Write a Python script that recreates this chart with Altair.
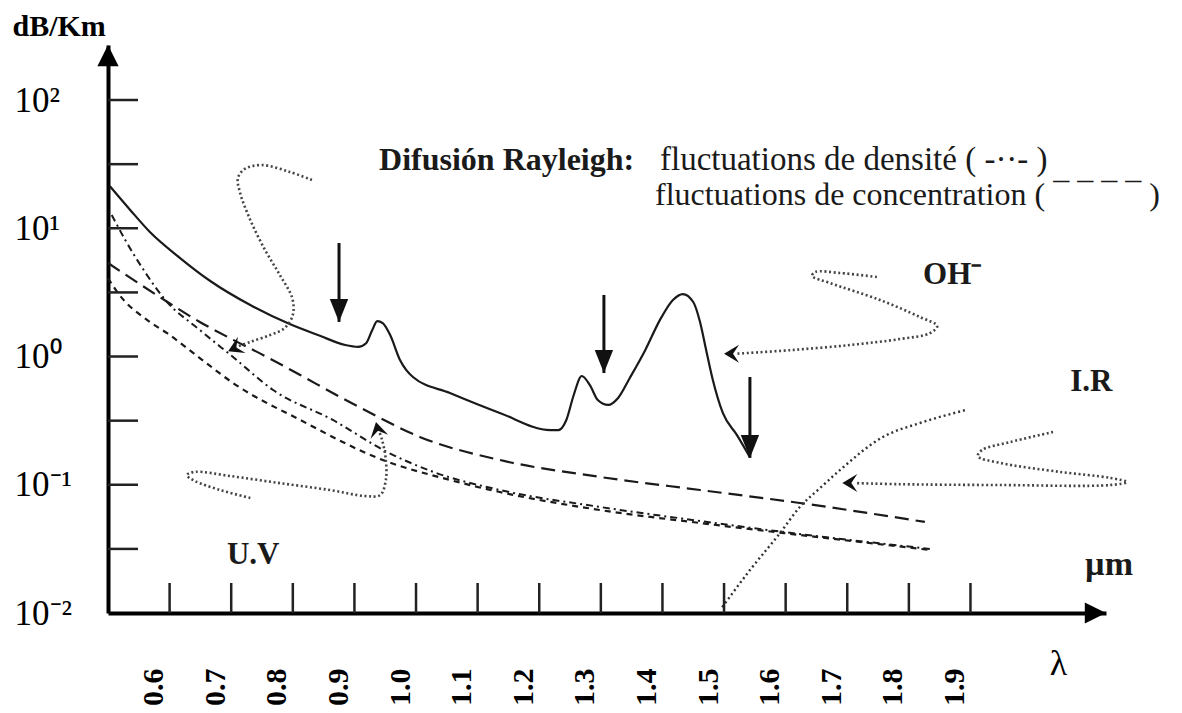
import altair as alt
import pandas as pd

# ---------------- axis values ----------------
x_tick_values = [0.6, 0.7, 0.8, 0.9, 1.0, 1.1, 1.2, 1.3, 1.4, 1.5, 1.6, 1.7, 1.8, 1.9]
y_label_values = [0.01, 0.1, 1, 10, 100]
y_tick_values = [0.0316, 0.1, 0.316, 1, 3.16, 10, 31.6, 100]

# ---------------- curves (wavelength µm, attenuation dB/km) ----------------
total_x = [0.503, 0.536, 0.568, 0.617, 0.666, 0.731, 0.795, 0.844, 0.885, 0.906,
           0.919, 0.929, 0.937, 0.946, 0.958, 0.974, 0.995, 1.055, 1.136, 1.218,
           1.231, 1.244, 1.256, 1.269, 1.282, 1.295, 1.312, 1.328, 1.347, 1.372,
           1.396, 1.417, 1.433, 1.450, 1.461, 1.471, 1.481, 1.498, 1.521, 1.542]
total_y = [21.3, 13.9, 9.35, 5.86, 3.88, 2.52, 1.79, 1.45, 1.23, 1.19,
           1.27, 1.61, 1.89, 1.82, 1.47, 0.94, 0.692, 0.519, 0.363, 0.267,
           0.267, 0.320, 0.501, 0.705, 0.600, 0.458, 0.419, 0.475, 0.680, 1.12,
           1.93, 2.76, 3.07, 2.66, 1.86, 1.12, 0.680, 0.363, 0.244, 0.164]

rayleigh_x = [0.5, 0.584, 0.649, 0.703, 0.758, 0.812, 0.877, 0.920, 1.006, 1.136, 1.299, 1.461, 1.623, 1.826]
rayleigh_y = [5.36, 2.91, 1.86, 1.35, 0.991, 0.717, 0.483, 0.376, 0.236, 0.156, 0.115, 0.091, 0.0721, 0.0513]

density_x = [0.506, 0.528, 0.560, 0.593, 0.649, 0.703, 0.768, 0.865, 0.953, 1.028, 1.136, 1.299, 1.461, 1.623, 1.834]
density_y = [12.7, 8.10, 4.56, 2.76, 1.61, 0.991, 0.548, 0.320, 0.180, 0.126, 0.0910, 0.0671, 0.0522, 0.0413, 0.0316]

conc_x = [0.5, 0.515, 0.568, 0.596, 0.649, 0.703, 0.812, 0.946, 1.055, 1.136, 1.299, 1.461, 1.623, 1.834]
conc_y = [4.09, 3.18, 1.86, 1.52, 0.973, 0.621, 0.320, 0.156, 0.109, 0.0878, 0.0635, 0.0503, 0.0406, 0.0310]

ir_x = [1.497, 1.542, 1.591, 1.623, 1.656, 1.688, 1.758, 1.818, 1.893]
ir_y = [0.0111, 0.0216, 0.0421, 0.0671, 0.0944, 0.130, 0.236, 0.303, 0.383]

# ---------------- dotted pointer paths ----------------
uv1_x = [0.831, 0.795, 0.750, 0.722, 0.711, 0.714, 0.731, 0.755, 0.779, 0.799, 0.800, 0.787, 0.763, 0.731, 0.701]
uv1_y = [23.8, 27.5, 31.1, 29.0, 24.7, 19.2, 11.6, 6.76, 4.32, 2.86, 2.11, 1.67, 1.47, 1.30, 1.15]
uv2_x = [0.731, 0.682, 0.641, 0.628, 0.641, 0.698, 0.779, 0.860, 0.917, 0.942, 0.951, 0.951, 0.945, 0.938]
uv2_y = [0.0789, 0.0910, 0.107, 0.119, 0.126, 0.117, 0.103, 0.0910, 0.0817, 0.0832, 0.109, 0.156, 0.223, 0.277]
oh_x = [1.748, 1.688, 1.648, 1.643, 1.672, 1.753, 1.818, 1.846, 1.834, 1.786, 1.705, 1.607, 1.518]
oh_y = [4.17, 4.48, 4.56, 4.25, 3.74, 2.76, 2.03, 1.73, 1.52, 1.37, 1.23, 1.12, 1.05]
irp_x = [2.034, 1.964, 1.919, 1.912, 1.948, 2.045, 2.127, 2.154, 2.127, 1.948, 1.786, 1.713]
irp_y = [0.258, 0.215, 0.187, 0.167, 0.148, 0.126, 0.113, 0.105, 0.0995, 0.0995, 0.101, 0.103]

head_x = [0.695, 0.935, 1.500, 1.692]
head_y = [1.10, 0.308, 1.05, 0.103]
head_angle = [335, 77, 0, 0]

# ---------------- window arrows ----------------
win_x = [0.875, 1.305, 1.542]
win_top = [7.67, 3.02, 0.692]
win_tip = [1.86, 0.743, 0.162]

# ---------------- annotations ----------------
bold_text = ["Difusión Rayleigh:", "OH⁻", "I.R", "U.V", "µm"]
bold_x = [0.940, 1.823, 2.062, 0.693, 2.086]
bold_y = [34.0, 4.32, 0.632, 0.0283, 0.0237]
bold_size = [32, 31, 31, 31, 34]

plain_text = ["fluctuations de densité (  -··-   )", "fluctuations de concentration ( ¯ ¯ ¯ ¯ )"]
plain_x = [1.396, 1.388]
plain_y = [34.0, 18.2]
plain_size = [33, 32]

W, H = 998, 568
FONT = "Liberation Serif"
INK = "#1a1a1a"

xscale = alt.Scale(domain=[0.5, 2.12], nice=False, zero=False)
yscale = alt.Scale(type="log", domain=[0.01, 268.5], nice=False)

x_axis = alt.Axis(
    values=x_tick_values, labelExpr="format(datum.value, '.1f')",
    labelAngle=270, labelAlign="right", labelBaseline="middle",
    labelPadding=55, labelOffset=-16, labelFont=FONT, labelFontSize=30,
    labelFontWeight="bold", labelColor="black", labelFlush=False, labelOverlap=False,
    ticks=False, tickSize=0, grid=False, domainColor="black", domainWidth=4,
    title="λ", titleFont=FONT, titleFontSize=36, titleFontWeight="normal",
    titleColor="black", titleX=950, titleY=50, titleAlign="center", titleBaseline="middle",
)
y_axis = alt.Axis(
    values=y_label_values,
    labelExpr="datum.value < 0.05 ? '10⁻²' : datum.value < 0.5 ? '10⁻¹' : datum.value < 5 ? '10⁰' : datum.value < 50 ? '10¹' : '10²'",
    labelAlign="left", labelBaseline="middle", labelPadding=94, labelFont=FONT,
    labelFontSize=35, labelColor="black", labelOverlap=False, labelFlush=False,
    ticks=False, tickSize=0, grid=False, domainColor="black", domainWidth=4,
    title="dB/Km", titleFont=FONT, titleFontSize=30, titleFontWeight="bold",
    titleColor="black", titleAngle=0, titleX=-96, titleY=-19, titleAlign="left",
    titleBaseline="middle",
)


def X(field="x"):
    return alt.X(f"{field}:Q", scale=xscale, axis=x_axis)


def Y(field="y"):
    return alt.Y(f"{field}:Q", scale=yscale, axis=y_axis)


def path_df(xs, ys):
    return pd.DataFrame({"x": xs, "y": ys, "i": list(range(len(xs)))})


layers = []

# total attenuation (solid)
layers.append(alt.Chart(path_df(total_x, total_y)).mark_line(
    color=INK, strokeWidth=2.2, interpolate="monotone"
).encode(x=X(), y=Y(), order="i:Q"))

# Rayleigh curves
layers.append(alt.Chart(path_df(rayleigh_x, rayleigh_y)).mark_line(
    color=INK, strokeWidth=2.2, strokeDash=[14, 7], interpolate="monotone"
).encode(x=X(), y=Y(), order="i:Q"))
layers.append(alt.Chart(path_df(density_x, density_y)).mark_line(
    color=INK, strokeWidth=2, strokeDash=[7, 4, 2, 4], interpolate="monotone"
).encode(x=X(), y=Y(), order="i:Q"))
layers.append(alt.Chart(path_df(conc_x, conc_y)).mark_line(
    color=INK, strokeWidth=2.2, strokeDash=[6, 5], interpolate="monotone"
).encode(x=X(), y=Y(), order="i:Q"))

# IR absorption (dotted)
layers.append(alt.Chart(path_df(ir_x, ir_y)).mark_line(
    color="#333", strokeWidth=2.4, strokeDash=[2, 3], interpolate="monotone"
).encode(x=X(), y=Y(), order="i:Q"))

# dotted pointers
for px, py in [(uv1_x, uv1_y), (uv2_x, uv2_y), (oh_x, oh_y), (irp_x, irp_y)]:
    layers.append(alt.Chart(path_df(px, py)).mark_line(
        color="#444", strokeWidth=2.6, strokeDash=[2, 2.6], interpolate="catmull-rom"
    ).encode(x=X(), y=Y(), order="i:Q"))

CHEVRON = "M0,0 L1,-0.6 L0.6,0 L1,0.6 Z"
layers.append(alt.Chart(pd.DataFrame({"x": head_x, "y": head_y, "a": head_angle})).mark_point(
    shape=CHEVRON, filled=True, size=900, color="#111", opacity=1
).encode(x=X(), y=Y(), angle=alt.Angle("a:Q", scale=None)))

# window arrows
win_df = pd.DataFrame({"x": win_x, "top": win_top, "tip": win_tip})
layers.append(alt.Chart(win_df).mark_rule(color="#111", strokeWidth=3).encode(
    x=X(), y=Y("top"), y2="tip:Q"))
DOWN = "M0,0 L-0.4,-1 L0.4,-1 Z"
layers.append(alt.Chart(win_df).mark_point(
    shape=DOWN, filled=True, size=2116, color="#111", opacity=1
).encode(x=X(), y=Y("tip")))

# inner ticks
layers.append(alt.Chart(pd.DataFrame({"y": y_tick_values})).mark_rule(
    color="#222", strokeWidth=2.5).encode(y=Y(), x=alt.value(0), x2=alt.value(30)))
layers.append(alt.Chart(pd.DataFrame({"x": x_tick_values})).mark_rule(
    color="#222", strokeWidth=2.5).encode(x=X(), y=alt.value(H), y2=alt.value(H - 30)))

# axis arrowheads
UP = "M0,0 L0.5,1 L-0.5,1 Z"
RIGHT = "M0,0 L-1,-0.5 L-1,0.5 Z"
layers.append(alt.Chart(pd.DataFrame({"x": [0.5], "y": [268.5]})).mark_point(
    shape=UP, filled=True, size=1800, color="black", opacity=1).encode(x=X(), y=Y()))
layers.append(alt.Chart(pd.DataFrame({"x": [2.12], "y": [0.01]})).mark_point(
    shape=RIGHT, filled=True, size=1800, color="black", opacity=1).encode(x=X(), y=Y()))

# annotations
layers.append(alt.Chart(pd.DataFrame({"x": bold_x, "y": bold_y, "t": bold_text, "s": bold_size})).mark_text(
    font=FONT, fontWeight="bold", align="left", baseline="middle", color=INK
).encode(x=X(), y=Y(), text="t:N", size=alt.Size("s:Q", scale=None)))
layers.append(alt.Chart(pd.DataFrame({"x": plain_x, "y": plain_y, "t": plain_text, "s": plain_size})).mark_text(
    font=FONT, fontWeight="normal", align="left", baseline="middle", color=INK
).encode(x=X(), y=Y(), text="t:N", size=alt.Size("s:Q", scale=None)))

chart = alt.layer(*layers).properties(
    width=W, height=H,
    padding={"left": 100, "top": 37, "right": 66, "bottom": 92},
    autosize=alt.AutoSizeParams(type="none"),
    background="white",
).configure_view(stroke=None)

chart.save("out.html", embed_options={"renderer": "svg", "actions": False})
